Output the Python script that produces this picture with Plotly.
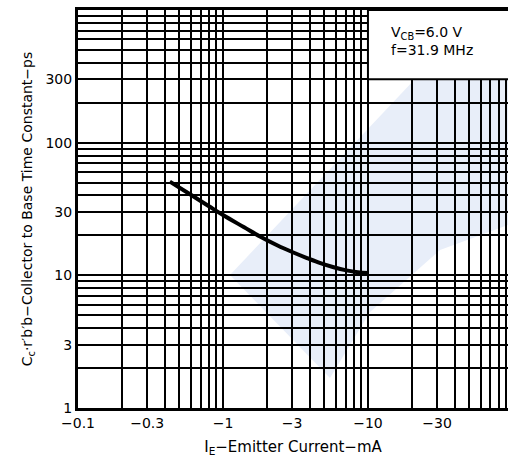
import numpy as np
import plotly.graph_objects as go

# Data (x = |I_E| in mA, plotted as negative currents via labels)
ie_ma = [0.43, 0.6, 0.8, 1.0, 1.4, 1.8, 2.4, 3.0, 3.8, 4.7, 5.8, 7.1, 8.5, 10.0]
tau_ps = [50.9, 40.5, 33.2, 28.5, 23.0, 19.6, 16.7, 15.0, 13.5, 12.35, 11.5, 10.9, 10.55, 10.4]

x_labels = {0.1: "−0.1", 0.3: "−0.3", 1: "−1", 3: "−3", 10: "−10", 30: "−30"}
y_labels = {1: "1", 3: "3", 10: "10", 30: "30", 100: "100", 300: "300"}

x_grid = [m * 10.0 ** d for d in (-1, 0, 1) for m in range(1, 10)]
y_grid = [m * 10.0 ** d for d in (0, 1, 2) for m in range(1, 10)] + [1000]

def lab(v, table):
    for k, t in table.items():
        if abs(v - k) / k < 1e-6:
            return t
    return ""

FONT = "DejaVu Sans"
W, H = 508, 467
L, R, T, B = 78, 0, 10, 59

def px(xp, yp):
    # pixel -> paper coords
    return ((xp - L) / (W - L - R), 1 - (yp - T) / (H - T - B))

fig = go.Figure()

# faint background watermark (scan artefact)
band = [(433, 60), (508, 50), (508, 225), (440, 250), (370, 312), (330, 378), (230, 275)]
pts = [px(a, b) for a, b in band]
path = "M " + " L ".join(f"{a:.4f},{b:.4f}" for a, b in pts) + " Z"
fig.add_shape(type="path", xref="paper", yref="paper", path=path,
              fillcolor="#e8eef9", line=dict(width=0), layer="below")

fig.add_trace(go.Scatter(x=ie_ma, y=tau_ps, mode="lines",
                         line=dict(color="black", width=4, shape="spline", smoothing=1.0),
                         showlegend=False, hoverinfo="skip"))

fig.update_xaxes(type="log", range=[-1, 1.966],
                 tickvals=x_grid, ticktext=[lab(v, x_labels) for v in x_grid],
                 showgrid=True, gridcolor="black", gridwidth=2,
                 showline=True, linecolor="black", linewidth=3, mirror=True,
                 ticks="", zeroline=False,
                 tickfont=dict(family=FONT, size=14, color="black"),
                 title=dict(text="I<sub>E</sub>−Emitter Current−mA",
                            font=dict(family=FONT, size=15, color="black"), standoff=12))
fig.update_yaxes(type="log", range=[0, 3],
                 tickvals=y_grid, ticktext=[lab(v, y_labels) for v in y_grid],
                 showgrid=True, gridcolor="black", gridwidth=2,
                 showline=True, linecolor="black", linewidth=3, mirror=False,
                 ticks="", zeroline=False,
                 tickfont=dict(family=FONT, size=14, color="black"),
                 title=dict(text="C<sub>c</sub>·r′b′b−Collector to Base Time Constant−ps",
                            font=dict(family=FONT, size=14, color="black"), standoff=10))

# white legend box covering the grid
fig.add_shape(type="rect", xref="x", yref="y", x0=10, x1=200, y0=300, y1=1000,
              fillcolor="white", line=dict(color="black", width=2), layer="above")
fig.add_annotation(xref="x", yref="y", x=np.log10(14.0), y=np.log10(1000), yshift=-12,
                   text="V<sub>CB</sub>=6.0 V<br>f=31.9 MHz", showarrow=False,
                   xanchor="left", yanchor="top", align="left",
                   font=dict(family=FONT, size=14, color="black"))

fig.update_layout(width=W, height=H,
                  margin=dict(l=L, r=R, t=T, b=B),
                  paper_bgcolor="white", plot_bgcolor="white")

fig.write_html("out.html")
